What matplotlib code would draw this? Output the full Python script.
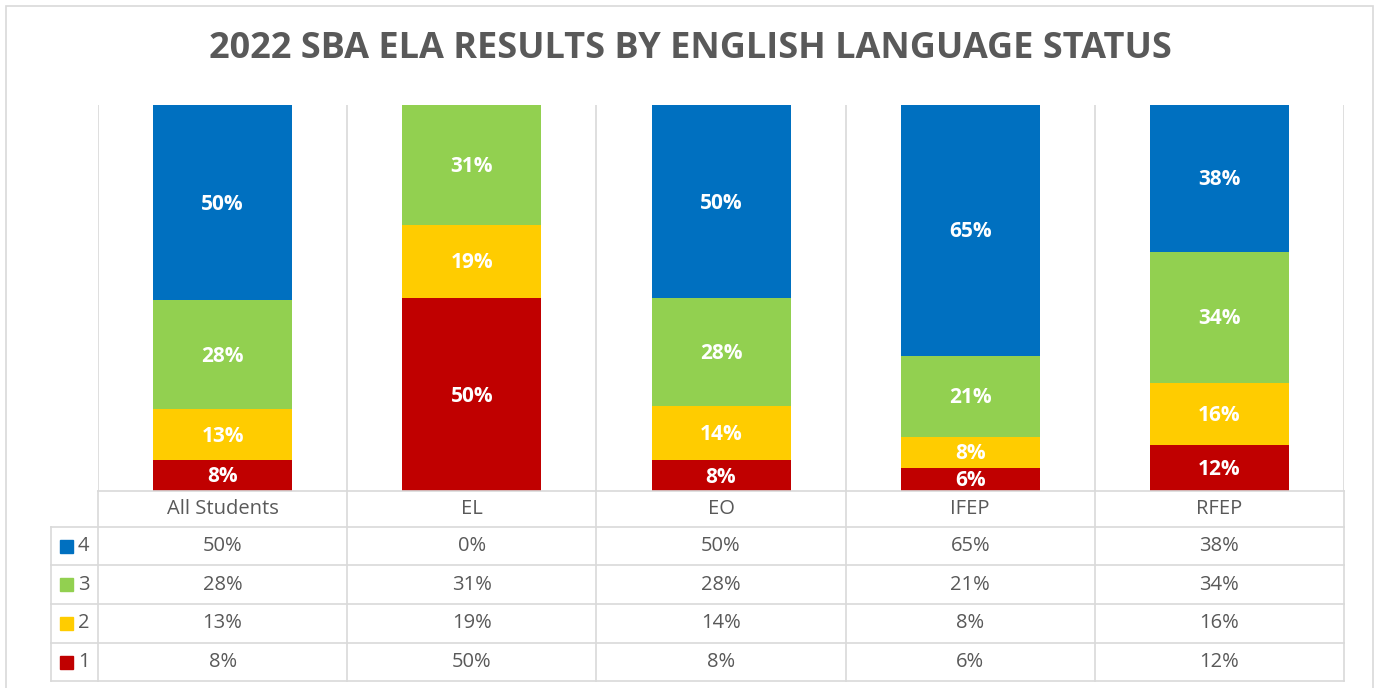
import matplotlib.pyplot as plt
from matplotlib.patches import Rectangle

# ----- data -----
groups = ['All Students', 'EL', 'EO', 'IFEP', 'RFEP']
levels = ['1', '2', '3', '4']
level_1 = [8, 50, 8, 6, 12]
level_2 = [13, 19, 14, 8, 16]
level_3 = [28, 31, 28, 21, 34]
level_4 = [50, 0, 50, 65, 38]
level_colors = ['#C00000', '#FFCC00', '#92D050', '#0070C0']

title = '2022 SBA ELA RESULTS BY ENGLISH LANGUAGE STATUS'

series = [level_1, level_2, level_3, level_4]
grid_c = '#D9D9D9'
text_c = '#595959'
font = 'Open Sans'

W, H = 1380, 688
fig = plt.figure(figsize=(W / 100, H / 100), dpi=100)

# outer chart frame
fig.add_artist(Rectangle((6 / W, -0.05), (1373 - 6) / W, 1 - 6 / H + 0.05,
                         transform=fig.transFigure, fill=False, ec=grid_c, lw=1.2))

fig.text(0.5, 1 - 49 / H, title, ha='center', va='center', fontsize=26,
         fontweight='bold', color=text_c, family=font)

# ----- stacked bars (100% stacked) -----
ax = fig.add_axes([98 / W, 1 - 491 / H, (1344 - 98) / W, (491 - 105) / H])
ax.set_xlim(0, len(groups))
ax.set_ylim(0, 100)
for s in ax.spines.values():
    s.set_visible(False)
ax.set_xticks([])
ax.set_yticks([])
for k in range(len(groups) + 1):
    ax.axvline(k, color=grid_c, lw=1.2, zorder=0)

totals = [sum(s[i] for s in series) for i in range(len(groups))]
bw = 139 / 249.2
for i in range(len(groups)):
    bottom = 0
    for vals, col in zip(series, level_colors):
        h = vals[i] / totals[i] * 100
        if h > 0:
            ax.bar(i + 0.5, h, bw, bottom=bottom, color=col, zorder=2)
            ax.text(i + 0.5, bottom + h / 2 - 0.4, f'{vals[i]}%', ha='center', va='center',
                    color='white', fontsize=15, fontweight='bold', family=font, zorder=3)
        bottom += h

# ----- data table under the chart -----
tab = fig.add_axes([51 / W, 1 - 681 / H, (1344 - 51) / W, (681 - 491) / H])
left = -(98 - 51) / 249.2
tab.set_xlim(left, len(groups))
tab.set_ylim(190, 0)
tab.axis('off')
rows = [0, 36, 74, 113, 152, 190]
lk = dict(color=grid_c, lw=1.2, clip_on=False)
for k in range(len(groups) + 1):
    tab.plot([k, k], [0, 190], **lk)
tab.plot([left, left], [36, 190], **lk)
tab.plot([0, len(groups)], [0, 0], **lk)
for y in rows[1:]:
    tab.plot([left, len(groups)], [y, y], **lk)

for i, g in enumerate(groups):
    tab.text(i + 0.5, 18, g, ha='center', va='center', fontsize=14.5,
             color=text_c, family=font)

for r, lvl in enumerate(reversed(range(len(levels)))):
    yc = (rows[r + 1] + rows[r + 2]) / 2
    tab.add_patch(Rectangle((left + 9 / 249.2, yc - 6.5), 13 / 249.2, 13,
                            color=level_colors[lvl], clip_on=False))
    tab.text(left + 27 / 249.2, yc, levels[lvl], ha='left', va='center',
             fontsize=14.5, color=text_c, family=font)
    for i in range(len(groups)):
        tab.text(i + 0.5, yc, f'{series[lvl][i]}%', ha='center', va='center',
                 fontsize=14.5, color=text_c, family=font)

fig.savefig('out.png', dpi=100)
